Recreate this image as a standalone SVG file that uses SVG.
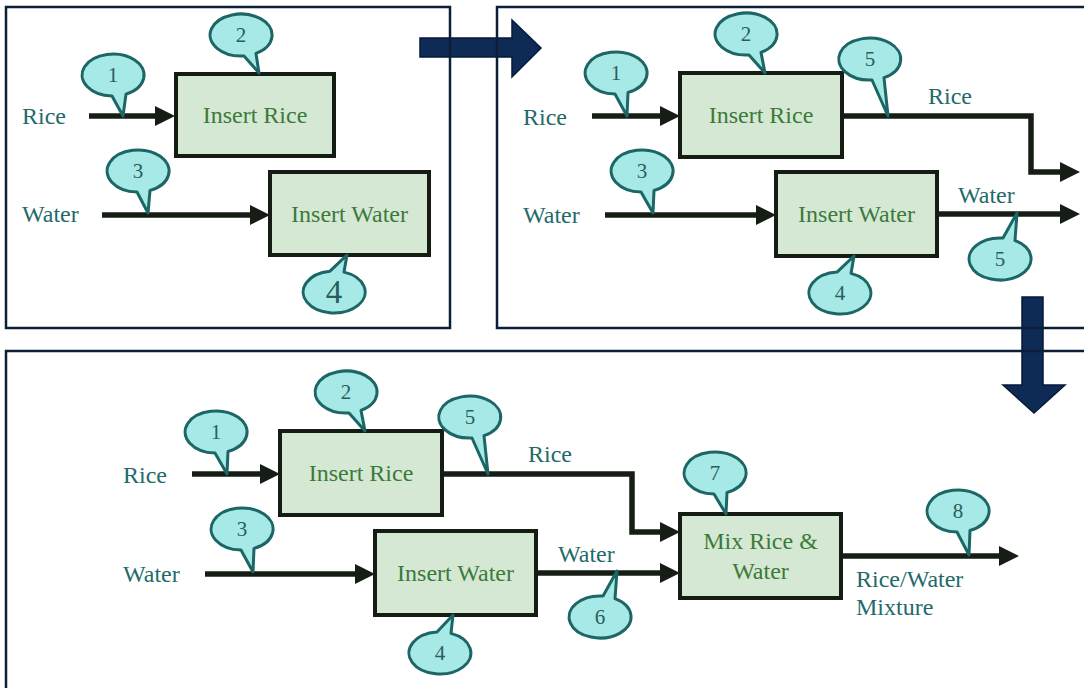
<svg xmlns="http://www.w3.org/2000/svg" width="1084" height="688" viewBox="0 0 1084 688">
<defs>
<style>
.panel{fill:none;stroke:#0b2038;stroke-width:2.5}
.big{fill:#0e2b56;stroke:#08193a;stroke-width:1.5}
.box{fill:#d5e8d4;stroke:#141c14;stroke-width:4}
.btxt{font-family:"Liberation Serif","Times New Roman",serif;font-size:24px;fill:#3c7a3a;text-anchor:middle}
.lbl{font-family:"Liberation Serif","Times New Roman",serif;font-size:24px;fill:#1f6a6a}
.conn{fill:none;stroke:#151d15;stroke-width:5.5;stroke-linejoin:miter}
.co{fill:#a6e9e6;stroke:#1c6666;stroke-width:3;stroke-linejoin:round}
.num{font-family:"Liberation Serif","Times New Roman",serif;font-size:21px;fill:#2b5d5d;text-anchor:middle}
</style>
<marker id="ah" markerUnits="userSpaceOnUse" markerWidth="20" markerHeight="20" refX="5" refY="10" orient="auto">
<path d="M0,0 L20,10 L0,20 Z" fill="#151d15"/>
</marker>
</defs>
<rect width="1084" height="688" fill="#ffffff"/>

<g id="big-arrows">
<path class="big" d="M420,38 L512,38 L512,20 L541,48 L512,77 L512,57 L420,57 Z"/>
<path class="big" d="M1022,297 L1043,297 L1043,385 L1065,385 L1034,413 L1003,385 L1022,385 Z"/>
</g>

<g id="panels">
<rect class="panel" x="6" y="7" width="444" height="321"/>
<rect class="panel" x="497" y="7" width="600" height="321"/>
<rect class="panel" x="6" y="351" width="1100" height="400"/>
</g>

<g id="connectors">
<line class="conn" x1="89" y1="116" x2="160" y2="116" marker-end="url(#ah)"/>
<line class="conn" x1="102" y1="215" x2="255" y2="215" marker-end="url(#ah)"/>
<line class="conn" x1="592" y1="116" x2="665" y2="116" marker-end="url(#ah)"/>
<line class="conn" x1="605" y1="215" x2="761" y2="215" marker-end="url(#ah)"/>
<polyline class="conn" points="842,116 1031,116 1031,172 1065,172" marker-end="url(#ah)"/>
<line class="conn" x1="937" y1="214" x2="1065" y2="214" marker-end="url(#ah)"/>
<line class="conn" x1="192" y1="474" x2="265" y2="474" marker-end="url(#ah)"/>
<line class="conn" x1="205" y1="574" x2="360" y2="574" marker-end="url(#ah)"/>
<polyline class="conn" points="442,474 632,474 632,532 665,532" marker-end="url(#ah)"/>
<line class="conn" x1="536" y1="573" x2="665" y2="573" marker-end="url(#ah)"/>
<line class="conn" x1="841" y1="556" x2="1004" y2="556" marker-end="url(#ah)"/>
</g>

<g id="labels">
<text class="lbl" x="22" y="124">Rice</text>
<text class="lbl" x="22" y="222">Water</text>
<text class="lbl" x="523" y="125">Rice</text>
<text class="lbl" x="523" y="223">Water</text>
<text class="lbl" x="928" y="104">Rice</text>
<text class="lbl" x="958" y="203">Water</text>
<text class="lbl" x="123" y="483">Rice</text>
<text class="lbl" x="123" y="582">Water</text>
<text class="lbl" x="528" y="462">Rice</text>
<text class="lbl" x="558" y="562">Water</text>
<text class="lbl" x="856" y="587">Rice/Water</text>
<text class="lbl" x="856" y="615">Mixture</text>
</g>

<g id="p1-insert-rice"><rect class="box" x="176" y="74" width="158" height="82"/><text class="btxt" x="255" y="123">Insert Rice</text></g>
<g id="p1-insert-water"><rect class="box" x="270" y="172" width="159" height="83"/><text class="btxt" x="349.5" y="222">Insert Water</text></g>
<g id="p2-insert-rice"><rect class="box" x="680" y="73" width="162" height="84"/><text class="btxt" x="761" y="123">Insert Rice</text></g>
<g id="p2-insert-water"><rect class="box" x="776" y="172" width="161" height="84"/><text class="btxt" x="856.5" y="222">Insert Water</text></g>
<g id="p3-insert-rice"><rect class="box" x="280" y="431" width="162" height="84"/><text class="btxt" x="361" y="481">Insert Rice</text></g>
<g id="p3-insert-water"><rect class="box" x="375" y="531" width="161" height="84"/><text class="btxt" x="455.5" y="581">Insert Water</text></g>
<g id="p3-mix"><rect class="box" x="680" y="514" width="161" height="84"/><text class="btxt" x="760.5" y="549">Mix Rice &amp;</text><text class="btxt" x="760.5" y="579">Water</text></g>

<g id="p1-c1"><path class="co" d="M112,96 L123,116 L126,94.1 A31,21 0 1 0 112,96 Z"/><text class="num" x="113" y="82">1</text></g>
<g id="p1-c2"><path class="co" d="M244,55.9 L259,73 L256,53.4 A31,21 0 1 0 244,55.9 Z"/><text class="num" x="241" y="42">2</text></g>
<g id="p1-c3"><path class="co" d="M137,192 L148,213 L150,190.4 A31,21 0 1 0 137,192 Z"/><text class="num" x="138" y="178">3</text></g>
<g id="p1-c4"><path class="co" d="M330,271.2 L347,255 L344,272.1 A31,21 0 1 1 330,271.2 Z"/><text class="num" x="334" y="303" style="font-size:33px">4</text></g>

<g id="p2-c1"><path class="co" d="M615,94 L627,116 L628,92.4 A31,21 0 1 0 615,94 Z"/><text class="num" x="616" y="80">1</text></g>
<g id="p2-c2"><path class="co" d="M749,54.9 L765,73 L761,52.4 A31,21 0 1 0 749,54.9 Z"/><text class="num" x="746" y="41">2</text></g>
<g id="p2-c3"><path class="co" d="M641,192 L653,213 L654,190.4 A31,21 0 1 0 641,192 Z"/><text class="num" x="642" y="178">3</text></g>
<g id="p2-c5a"><path class="co" d="M872,80 L888,116 L884,77.7 A31,21 0 1 0 872,80 Z"/><text class="num" x="870" y="66">5</text></g>
<g id="p2-c5b"><path class="co" d="M1003,238.1 L1017,213 L1015,240.6 A31,21 0 1 1 1003,238.1 Z"/><text class="num" x="1000" y="266">5</text></g>
<g id="p2-c4"><path class="co" d="M837,272.1 L854,256 L851,273.4 A31,21 0 1 1 837,272.1 Z"/><text class="num" x="840" y="300">4</text></g>

<g id="p3-c1"><path class="co" d="M215,453 L227,474 L228,451.4 A31,21 0 1 0 215,453 Z"/><text class="num" x="216" y="439">1</text></g>
<g id="p3-c2"><path class="co" d="M349,412.9 L365,431 L361,410.4 A31,21 0 1 0 349,412.9 Z"/><text class="num" x="346" y="399">2</text></g>
<g id="p3-c5"><path class="co" d="M472,438 L488,474 L484,435.7 A31,21 0 1 0 472,438 Z"/><text class="num" x="470" y="424">5</text></g>
<g id="p3-c3"><path class="co" d="M241,550 L253,572 L254,548.4 A31,21 0 1 0 241,550 Z"/><text class="num" x="242" y="536">3</text></g>
<g id="p3-c4"><path class="co" d="M437,632.1 L453,615 L451,633.4 A31,21 0 1 1 437,632.1 Z"/><text class="num" x="440" y="660">4</text></g>
<g id="p3-c6"><path class="co" d="M603,596.1 L617,571 L615,598.6 A31,21 0 1 1 603,596.1 Z"/><text class="num" x="600" y="624">6</text></g>
<g id="p3-c7"><path class="co" d="M714,494 L726,514 L727,492.4 A31,21 0 1 0 714,494 Z"/><text class="num" x="715" y="480">7</text></g>
<g id="p3-c8"><path class="co" d="M957,532 L969,555 L970,530.4 A31,21 0 1 0 957,532 Z"/><text class="num" x="958" y="518">8</text></g>
</svg>
